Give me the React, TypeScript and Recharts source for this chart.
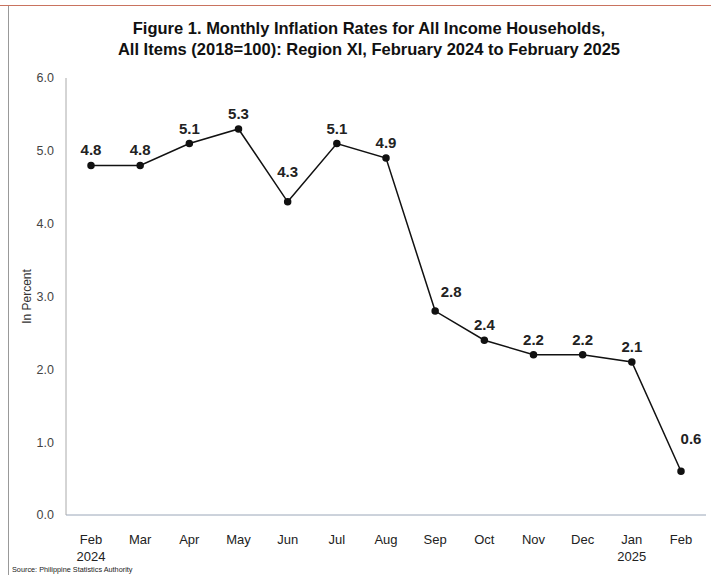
import React from "react"
import { LineChart, Line, XAxis, YAxis, LabelList } from "recharts"

const months = ["Feb", "Mar", "Apr", "May", "Jun", "Jul", "Aug", "Sep", "Oct", "Nov", "Dec", "Jan", "Feb"]
const years = ["2024", "", "", "", "", "", "", "", "", "", "", "2025", ""]
const rates = [4.8, 4.8, 5.1, 5.3, 4.3, 5.1, 4.9, 2.8, 2.4, 2.2, 2.2, 2.1, 0.6]
const yTicks = [0, 1, 2, 3, 4, 5, 6]

const data = months.map((m, i) => ({ key: `${m}-${i}`, month: m, year: years[i], rate: rates[i] }))

const font = "'Liberation Sans', Arial, sans-serif"

function MonthTick(props: any) {
  const { x, y, payload } = props
  const d = data[payload.index]
  return (
    <g>
      <text x={x} y={y + 21} textAnchor="middle" fontSize={13} fill="#222" fontFamily={font}>
        {d.month}
      </text>
      {d.year && (
        <text x={x} y={y + 38} textAnchor="middle" fontSize={13} fill="#222" fontFamily={font}>
          {d.year}
        </text>
      )}
    </g>
  )
}

// label placement tweaks for the crowded spots
function PointLabel(props: any) {
  const { x, y, index, value } = props
  let dx = 0
  let dy = -10
  if (index === 4) dy = -25
  if (index === 7) { dx = 16; dy = -14 }
  if (index === 12) { dx = 10; dy = -27 }
  return (
    <text x={x + dx} y={y + dy} textAnchor="middle" fontSize={15} fontWeight="bold" fill="#222" fontFamily={font}>
      {Number(value).toFixed(1)}
    </text>
  )
}

export default function App() {
  return (
    <div style={{ position: "absolute", left: 0, top: 0, width: 711, height: 575, background: "#fff", overflow: "hidden", fontFamily: font }}>
      <div style={{ position: "absolute", left: 0, top: 5, width: 711, height: 1, background: "#c9735f" }} />
      <div style={{ position: "absolute", left: 8, top: 6, width: 1, height: 569, background: "#999" }} />
      <div style={{ position: "absolute", left: 0, top: 18, width: 738, textAlign: "center", fontWeight: "bold", fontSize: 16.5, lineHeight: "21px", color: "#111" }}>
        Figure 1. Monthly Inflation Rates for All Income Households,
        <br />
        All Items (2018=100): Region XI, February 2024 to February 2025
      </div>
      <LineChart width={711} height={575} data={data} margin={{ top: 78, right: 5, bottom: 0, left: 0 }} style={{ position: "absolute", left: 0, top: 0 }}>
        <XAxis
          dataKey="key"
          tick={<MonthTick />}
          tickLine={false}
          axisLine={{ stroke: "#9aa6b8" }}
          interval={0}
          height={60}
          padding={{ left: 25, right: 25 }}
        />
        <YAxis
          domain={[0, 6]}
          ticks={yTicks}
          tickFormatter={(v: number) => v.toFixed(1)}
          tickLine={false}
          tickSize={0}
          tickMargin={12}
          axisLine={{ stroke: "#aaa" }}
          width={66}
          tick={{ fontSize: 12.5, fill: "#444", fontFamily: font }}
          label={{ value: "In Percent", angle: -90, position: "insideLeft", offset: 27, style: { fontSize: 12, fill: "#333", fontFamily: font, textAnchor: "middle" } }}
        />
        <Line
          dataKey="rate"
          stroke="#111"
          strokeWidth={1.5}
          dot={{ r: 3, fill: "#111", stroke: "#111" }}
          isAnimationActive={false}
        >
          <LabelList dataKey="rate" content={<PointLabel />} />
        </Line>
      </LineChart>
      <div style={{ position: "absolute", left: 12, top: 565, fontSize: 7.3, color: "#222" }}>
        Source: Philippine Statistics Authority
      </div>
    </div>
  )
}
